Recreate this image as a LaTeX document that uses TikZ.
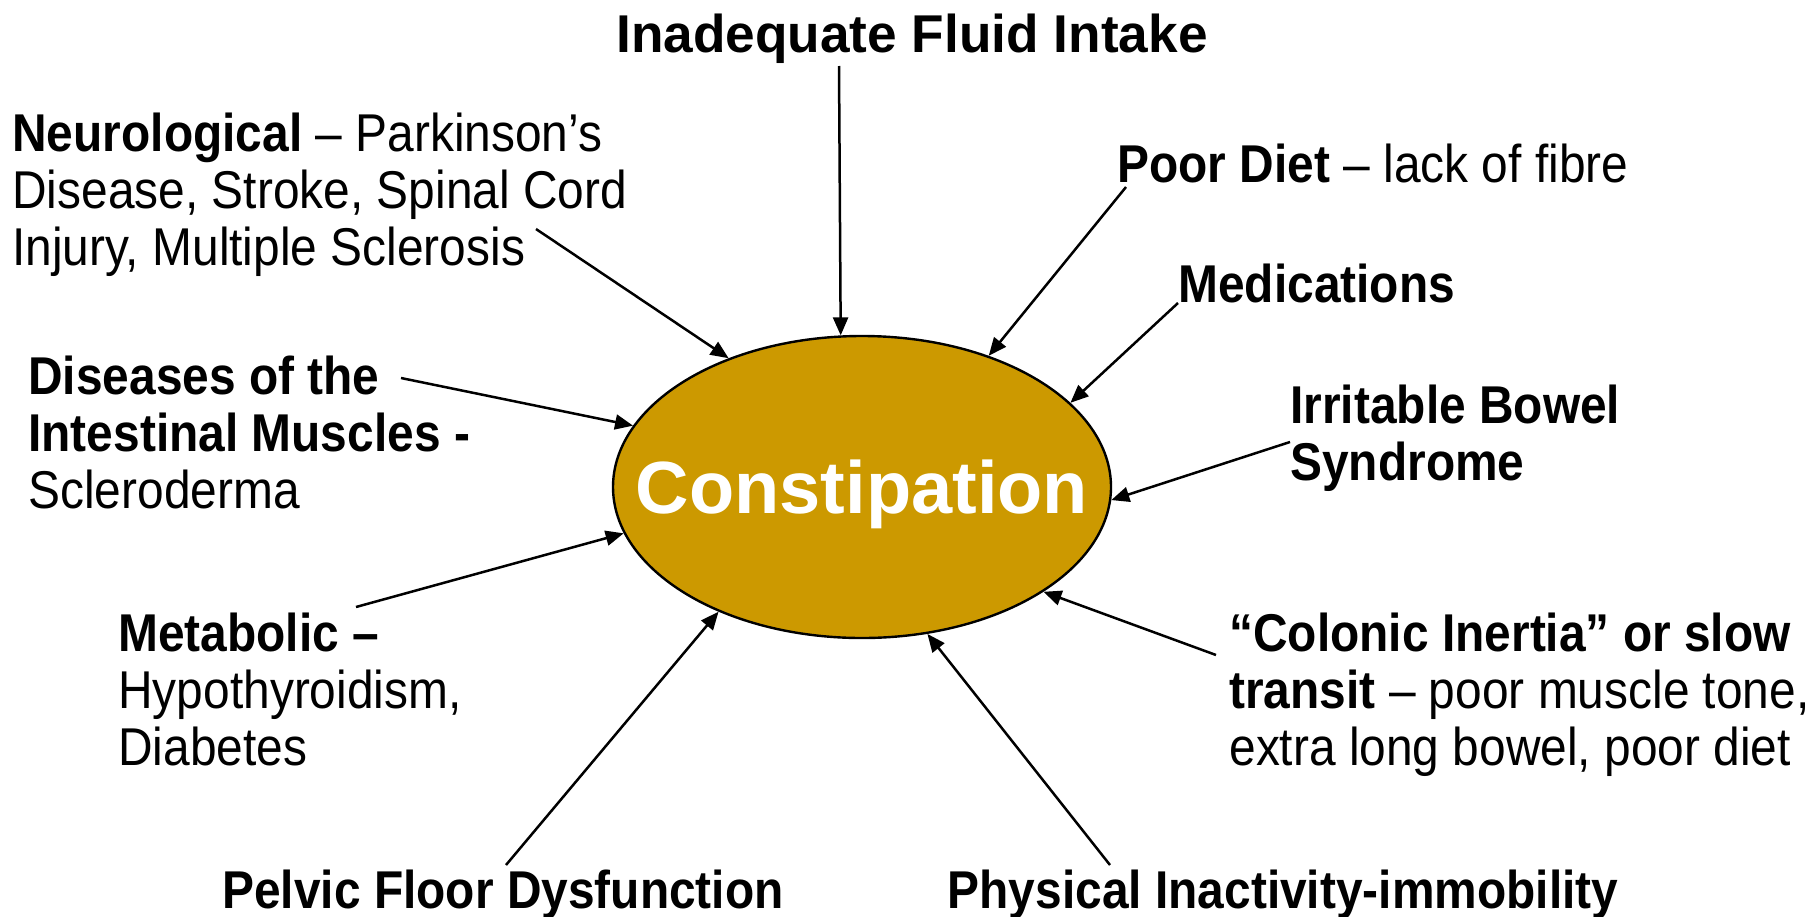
\documentclass[tikz,border=0pt]{standalone}
\usepackage{fontspec}
\setmainfont{Liberation Sans}
\newfontfamily\causefont{Liberation Sans}[FakeStretch=0.9]
\usetikzlibrary{arrows.meta, shapes.geometric}
\definecolor{constgold}{RGB}{204, 153, 0}

\begin{document}
\begin{tikzpicture}[
  x=0.5pt, y=-0.5pt,
  cause/.style={inner sep=0pt, align=left, font=\causefont\fontsize{26.6}{28.5}\selectfont},
  hub/.style={ellipse, draw=black, line width=1.2pt, fill=constgold,
              minimum width=249pt, minimum height=151pt, inner sep=0pt,
              text=white, text depth=0pt, font=\fontsize{37}{40}\selectfont\bfseries},
  arr/.style={-{Triangle[length=9pt, width=7.5pt]}, line width=1.25pt, black}
]
\useasboundingbox (0,0) rectangle (1814,916);

\node[hub] (con) at (862,487) {\makebox[0pt]{Constipation}};

\node[cause, anchor=base, font=\fontsize{26.6}{28.5}\selectfont] (fluid) at (912,52)
      {\textbf{Inadequate Fluid Intake}};
\node[cause, anchor=base west] (neuro) at (12,265)
      {\textbf{Neurological} – Parkinson’s\\Disease, Stroke, Spinal Cord\\Injury, Multiple Sclerosis};
\node[cause, anchor=base west] (diet) at (1117,182) {\textbf{Poor Diet} – lack of fibre};
\node[cause, anchor=base west] (meds) at (1178,302) {\textbf{Medications}};
\node[cause, anchor=base west] (muscle) at (28,508)
      {\textbf{Diseases of the}\\\textbf{Intestinal Muscles -}\\Scleroderma};
\node[cause, anchor=base west] (ibs) at (1290,480) {\textbf{Irritable Bowel}\\\textbf{Syndrome}};
\node[cause, anchor=base west] (metab) at (118,765)
      {\textbf{Metabolic –}\\Hypothyroidism,\\Diabetes};
\node[cause, anchor=base west] (colon) at (1229,765)
      {\textbf{“Colonic Inertia” or slow}\\\textbf{transit} – poor muscle tone,\\extra long bowel, poor diet};
\node[cause, anchor=base] (pelvic) at (503,908) {\textbf{Pelvic Floor Dysfunction}};
\node[cause, anchor=base] (inact) at (1283,908) {\textbf{Physical Inactivity-immobility}};

% arrow tails, just off each label
\coordinate (fluid-t) at (839,66);
\coordinate (neuro-t) at (536,229);
\coordinate (diet-t) at (1126,187);
\coordinate (meds-t) at (1178,303);
\coordinate (muscle-t) at (401,378);
\coordinate (ibs-t) at (1290,442);
\coordinate (metab-t) at (356,607);
\coordinate (colon-t) at (1216,655);
\coordinate (pelvic-t) at (506,865);
\coordinate (inact-t) at (1110,865);

\draw[arr] (fluid-t)  -- (con.98.7);
\draw[arr] (neuro-t)  -- (con.136.8);
\draw[arr] (diet-t)   -- (con.46.7);
\draw[arr] (meds-t)   -- (con.22.5);
\draw[arr] (muscle-t) -- (con.165.8);
\draw[arr] (ibs-t)    -- (con.-3.2);
\draw[arr] (metab-t)  -- (con.191.4);
\draw[arr] (colon-t)  -- (con.-30.1);
\draw[arr] (pelvic-t) -- (con.221);
\draw[arr] (inact-t)  -- (con.294);
\end{tikzpicture}
\end{document}
